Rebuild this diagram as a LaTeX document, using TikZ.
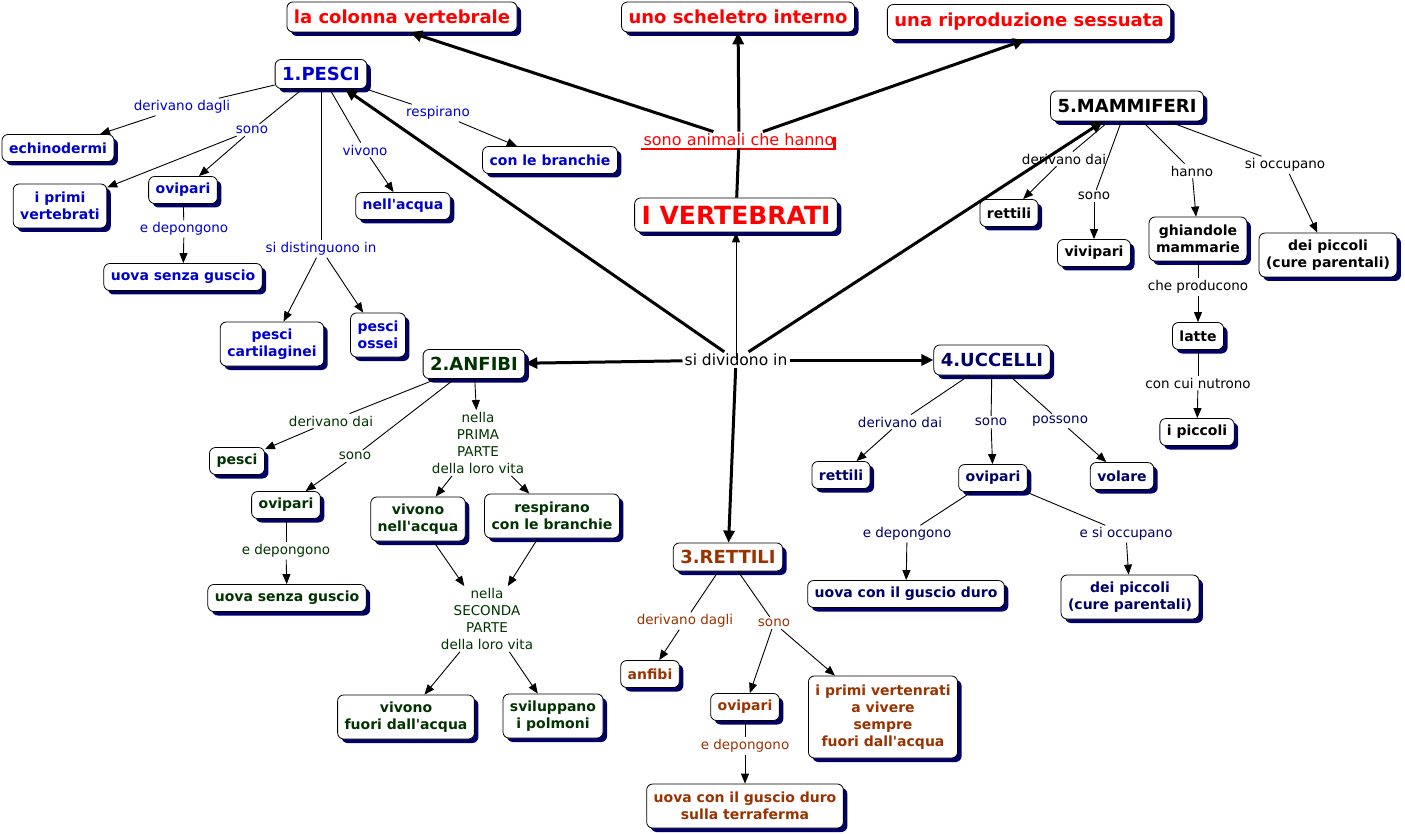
\documentclass[tikz,border=0pt]{standalone}
\usepackage{fontspec}
\setmainfont{DejaVu Sans}
\usetikzlibrary{shadows,arrows.meta}
\definecolor{cred}{HTML}{FF0000}
\definecolor{cblue}{HTML}{0000CC}
\definecolor{cgreen}{HTML}{003300}
\definecolor{cbrown}{HTML}{993300}
\definecolor{cnavy}{HTML}{000066}
\definecolor{shadowc}{HTML}{000066}
\newcommand\ap{\textquotesingle}
\begin{document}
\begin{tikzpicture}[x=1pt,y=-1pt,
 box/.style={draw=black,line width=0.8pt,rounded corners=6pt,fill=white,
   drop shadow={shadow xshift=4pt,shadow yshift=-4pt,fill=shadowc,opacity=1},
   inner xsep=7pt,inner ysep=3pt,minimum height=27pt,align=center,
   font=\bfseries\fontsize{14}{17}\selectfont},
 two/.style={minimum height=44pt},
 head/.style={box,font=\bfseries\fontsize{18}{21}\selectfont,minimum height=30pt},
 lab/.style={inner sep=2pt,align=center,font=\fontsize{13.5}{17}\selectfont},
 ln/.style={line width=0.9pt},
 arr/.style={line width=0.9pt,-{Triangle[length=10pt,width=8pt]}},
 thk/.style={line width=3pt},
 tarr/.style={line width=3pt,-{Triangle[length=12pt,width=11pt]}}]
\useasboundingbox (0,0) rectangle (1405,834);
% top
\node[head,text=cred] (col) at (402,17) {la colonna vertebrale};
\node[head,text=cred] (sch) at (738,17) {uno scheletro interno};
\node[head,text=cred,minimum height=35pt] (rip) at (1029,22) {una riproduzione sessuata};
\node[lab,text=cred,font=\fontsize{16}{19}\selectfont] (san) at (739,140) {sono animali che hanno};
\node[head,text=cred,font=\bfseries\fontsize{25}{29}\selectfont,minimum height=34pt] (vert) at (736,215) {I VERTEBRATI};
\node[lab,font=\fontsize{15.5}{18}\selectfont] (div) at (736,360) {si dividono in};
\draw[cred,line width=2.5pt] ([yshift=-3pt]san.base west) -- ([yshift=-3pt,xshift=-2pt]san.base east) -- ([xshift=-2pt,yshift=9pt]san.base east);
% PESCI
\node[head,text=cblue,minimum height=29pt] (pes) at (321,74) {1.PESCI};
\node[box,text=cblue] (ech) at (58,148) {echinodermi};
\node[box,two,text=cblue] (ipv) at (60,206) {i primi\\vertebrati};
\node[box,text=cblue] (pov) at (183,190) {ovipari};
\node[box,text=cblue] (puo) at (183,277) {uova senza guscio};
\node[box,two,text=cblue] (pca) at (272,344) {pesci\\cartilaginei};
\node[box,two,text=cblue] (pos) at (378,335) {pesci\\ossei};
\node[box,text=cblue] (pac) at (403,206) {nell\ap acqua};
\node[box,text=cblue] (pbr) at (550,160) {con le branchie};
\node[lab,text=cblue] (l1) at (182,107) {derivano dagli};
\node[lab,text=cblue] (l2) at (252,130) {sono};
\node[lab,text=cblue] (l3) at (184,229) {e depongono};
\node[lab,text=cblue] (l4) at (321,249) {si distinguono in};
\node[lab,text=cblue] (l5) at (365,150) {vivono};
\node[lab,text=cblue] (l6) at (438,113) {respirano};
% ANFIBI
\node[head,text=cgreen,minimum height=29pt] (anf) at (474,364) {2.ANFIBI};
\node[box,text=cgreen] (apes) at (237,461) {pesci};
\node[box,text=cgreen] (aov) at (286,505) {ovipari};
\node[box,text=cgreen] (auo) at (287,598) {uova senza guscio};
\node[box,two,text=cgreen] (avn) at (418,519) {vivono\\nell\ap acqua};
\node[box,two,text=cgreen] (are) at (552,516) {respirano\\con le branchie};
\node[box,two,text=cgreen] (avf) at (406,717) {vivono\\fuori dall\ap acqua};
\node[box,two,text=cgreen] (asv) at (553,716) {sviluppano\\i polmoni};
\node[lab,text=cgreen] (m1) at (331,421) {derivano dai};
\node[lab,text=cgreen] (m2) at (355,456) {sono};
\node[lab,text=cgreen] (m3) at (286,551) {e depongono};
\node[lab,text=cgreen] (m4) at (478,443) {nella\\PRIMA\\PARTE\\della loro vita};
\node[lab,text=cgreen] (m5) at (487,619) {nella\\SECONDA\\PARTE\\della loro vita};
% RETTILI
\node[head,text=cbrown,minimum height=28pt] (ret) at (728,557) {3.RETTILI};
\node[box,text=cbrown] (ran) at (650,674) {anfibi};
\node[box,text=cbrown] (rov) at (745,707) {ovipari};
\node[box,text=cbrown,minimum height=82pt] (rpv) at (883,717) {i primi vertenrati\\a vivere\\sempre\\fuori dall\ap acqua};
\node[box,two,text=cbrown] (ruo) at (745,806) {uova con il guscio duro\\sulla terraferma};
\node[lab,text=cbrown] (r1) at (685,621) {derivano dagli};
\node[lab,text=cbrown] (r2) at (774,623) {sono};
\node[lab,text=cbrown] (r3) at (745,746) {e depongono};
% UCCELLI
\node[head,text=cnavy] (ucc) at (992,360) {4.UCCELLI};
\node[box,text=cnavy] (ure) at (841,475) {rettili};
\node[box,text=cnavy] (uov) at (993,478) {ovipari};
\node[box,text=cnavy] (uvo) at (1122,476) {volare};
\node[box,text=cnavy] (uuo) at (906,594) {uova con il guscio duro};
\node[box,two,text=cnavy] (udp) at (1130,597) {dei piccoli\\(cure parentali)};
\node[lab,text=cnavy] (u1) at (900,422) {derivano dai};
\node[lab,text=cnavy] (u2) at (991,422) {sono};
\node[lab,text=cnavy] (u3) at (1060,421) {possono};
\node[lab,text=cnavy] (u4) at (907,534) {e depongono};
\node[lab,text=cnavy] (u5) at (1126,534) {e si occupano};
% MAMMIFERI
\node[head] (mam) at (1127,106) {5.MAMMIFERI};
\node[box] (mre) at (1009,213) {rettili};
\node[box] (mvi) at (1094,253) {vivipari};
\node[box,two] (mgh) at (1198,239) {ghiandole\\mammarie};
\node[box,two] (mdp) at (1328,255) {dei piccoli\\(cure parentali)};
\node[box] (mla) at (1198,336) {latte};
\node[box] (mpi) at (1197,432) {i piccoli};
\node[lab] (k1) at (1064,159) {derivano dai};
\node[lab] (k2) at (1094,196) {sono};
\node[lab] (k3) at (1192,171) {hanno};
\node[lab] (k4) at (1285,165) {si occupano};
\node[lab] (k5) at (1198,287) {che producono};
\node[lab] (k6) at (1198,383) {con cui nutrono};
% main connectors
\draw[thk] (vert) -- (san);
\draw[tarr] (san) -- (sch);
\draw[tarr] (san) -- ([xshift=8pt]col.south);
\draw[tarr] (san) -- ([xshift=-4pt]rip.south);
\draw[arr] (div.center) -- (vert);
\draw[tarr] (div) -- ([xshift=24pt]pes.south);
\draw[tarr] (div) -- ([xshift=-24pt]mam.south);
\draw[tarr] (div) -- (anf);
\draw[tarr] (div) -- (ucc);
\draw[tarr] (div) -- (ret);
% PESCI connectors
\draw[ln] (pes) -- (l1); \draw[arr] (l1) -- (ech);
\draw[ln] (pes) -- (l2); \draw[arr] (l2) -- (pov); \draw[arr] (l2) -- (ipv);
\draw[ln] (pov) -- (l3); \draw[arr] (l3) -- (puo);
\draw[ln] (pes) -- (l4); \draw[arr] (l4) -- (pca); \draw[arr] (l4) -- (pos);
\draw[ln] (pes) -- (l5); \draw[arr] (l5) -- (pac);
\draw[ln] (pes) -- (l6); \draw[arr] (l6) -- (pbr);
% ANFIBI connectors
\draw[ln] (anf) -- (m1); \draw[arr] (m1) -- (apes);
\draw[ln] (anf) -- (m2); \draw[arr] (m2) -- (aov);
\draw[ln] (aov) -- (m3); \draw[arr] (m3) -- (auo);
\draw[arr] (anf) -- (m4); \draw[arr] (m4) -- (avn); \draw[arr] (m4) -- (are);
\draw[arr] (avn) -- (m5); \draw[arr] (are) -- (m5);
\draw[arr] (m5) -- (avf); \draw[arr] (m5) -- (asv);
% RETTILI connectors
\draw[ln] (ret) -- (r1); \draw[arr] (r1) -- (ran);
\draw[ln] (ret) -- (r2); \draw[arr] (r2) -- (rov); \draw[arr] (r2) -- (rpv);
\draw[ln] (rov) -- (r3); \draw[arr] (r3) -- (ruo);
% UCCELLI connectors
\draw[ln] (ucc) -- (u1); \draw[arr] (u1) -- (ure);
\draw[ln] (ucc) -- (u2); \draw[arr] (u2) -- (uov);
\draw[ln] (ucc) -- (u3); \draw[arr] (u3) -- (uvo);
\draw[ln] (uov) -- (u4); \draw[arr] (u4) -- (uuo);
\draw[ln] (uov) -- (u5); \draw[arr] (u5) -- (udp);
% MAMMIFERI connectors
\draw[ln] (mam) -- (k1); \draw[arr] (k1) -- (mre);
\draw[ln] (mam) -- (k2); \draw[arr] (k2) -- (mvi);
\draw[ln] (mam) -- (k3); \draw[arr] (k3) -- (mgh);
\draw[ln] (mam) -- (k4); \draw[arr] (k4) -- (mdp);
\draw[ln] (mgh) -- (k5); \draw[arr] (k5) -- (mla);
\draw[ln] (mla) -- (k6); \draw[arr] (k6) -- (mpi);
\end{tikzpicture}
\end{document}
